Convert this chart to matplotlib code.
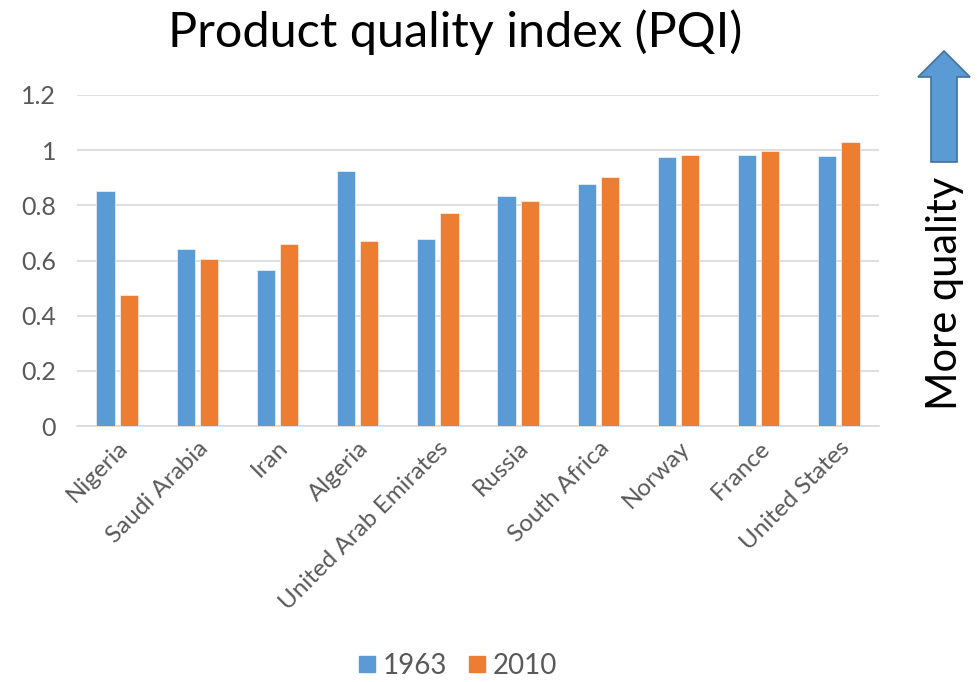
import matplotlib

matplotlib.use("Agg")

import matplotlib.pyplot as plt
import numpy as np
from matplotlib.lines import Line2D
from matplotlib.patches import FancyArrow

countries = [
    "Nigeria", "Saudi Arabia", "Iran", "Algeria", "United Arab Emirates",
    "Russia", "South Africa", "Norway", "France", "United States",
]
pqi_1963 = [0.852, 0.641, 0.566, 0.925, 0.679, 0.835, 0.878, 0.977, 0.981, 0.980]
pqi_2010 = [0.474, 0.604, 0.659, 0.670, 0.771, 0.817, 0.904, 0.982, 0.997, 1.029]
series_labels = ["1963", "2010"]
yticks = [0, 0.2, 0.4, 0.6, 0.8, 1.0, 1.2]
ytick_labels = ["0", "0.2", "0.4", "0.6", "0.8", "1", "1.2"]

BLUE = "#5b9bd5"
ORANGE = "#ed7d31"
GREY_TXT = "#595959"
GRID = "#d9d9d9"

plt.rcParams["font.family"] = ["Lato", "DejaVu Sans"]

fig = plt.figure(figsize=(9.78, 6.82), dpi=100)
ax = fig.add_axes([77 / 978, 1 - 426 / 682, (879 - 77) / 978, (426 - 95) / 682])

x = np.arange(len(countries))
w = 0.228
off = 0.144
ax.bar(x - off, pqi_1963, w, color=BLUE, edgecolor="white", linewidth=0.4, zorder=3)
ax.bar(x + off, pqi_2010, w, color=ORANGE, edgecolor="white", linewidth=0.4, zorder=3)

ax.set_xlim(-0.5, len(countries) - 0.5)
ax.set_ylim(0, 1.2)
ax.set_yticks(yticks)
ax.set_yticklabels(ytick_labels)
ax.set_xticks(x)
ax.set_xticklabels(countries, rotation=45, ha="right", rotation_mode="anchor")
ax.tick_params(axis="both", length=0, colors=GREY_TXT)
ax.tick_params(axis="y", pad=15, labelsize=18)
ax.tick_params(axis="x", pad=8, labelsize=17.5)
ax.yaxis.grid(True, color=GRID, linewidth=1.2, zorder=0)
for side in ("top", "right", "left"):
    ax.spines[side].set_visible(False)
ax.spines["bottom"].set_color(GRID)
ax.spines["bottom"].set_linewidth(1.2)

fig.text(455 / 978, 1 - 32 / 682, "Product quality index (PQI)",
         ha="center", va="center", fontsize=35, color="black")

# "More quality" arrow on the right
fig.add_artist(FancyArrow(9.44, 5.20, 0, 1.11, width=0.26, head_width=0.52,
                          head_length=0.26, length_includes_head=True,
                          facecolor=BLUE, edgecolor="#41719c", linewidth=1.2,
                          transform=fig.dpi_scale_trans))
fig.text(945 / 978, 1 - 293 / 682, "More quality", rotation=90,
         ha="center", va="center", fontsize=30, color="black")

handles = [
    Line2D([], [], marker="s", linestyle="none", markersize=11.5, color=BLUE),
    Line2D([], [], marker="s", linestyle="none", markersize=11.5, color=ORANGE),
]
leg = ax.legend(handles, series_labels, loc="center",
                bbox_to_anchor=(458 / 978, 1 - 666 / 682),
                bbox_transform=fig.transFigure, ncol=2, frameon=False,
                handlelength=0.6, handletextpad=0.25,
                columnspacing=0.8, fontsize=20, borderpad=0)
for t in leg.get_texts():
    t.set_color(GREY_TXT)

fig.savefig("out.png", dpi=100)
